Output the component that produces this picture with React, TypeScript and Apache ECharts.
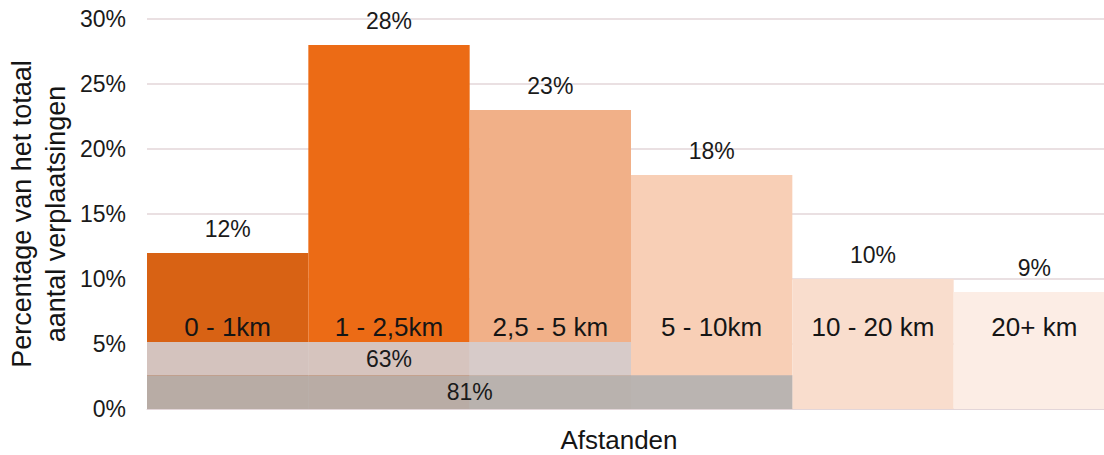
import React, { useEffect, useRef } from "react";
import * as echarts from "echarts";

const categories = ["0 - 1km", "1 - 2,5km", "2,5 - 5 km", "5 - 10km", "10 - 20 km", "20+ km"];
const shares = [12, 28, 23, 18, 10, 9];
const barColors = ["#d86214", "#ec6b15", "#f1b088", "#f8cfb6", "#f9ddcd", "#fcede5"];
const yTicks = [0, 5, 10, 15, 20, 25, 30];

// cumulative bands drawn over the bars
const bandLabels = ["63%", "81%"];
const bandStart = [0, 0];
const bandEnd = [2, 3];
const bandLow = [2.6, 0];
const bandHigh = [5.15, 2.6];
const bandColors = ["rgba(212,206,208,0.9)", "rgba(181,178,176,0.93)"];

const FONT = "'Liberation Sans', Arial, sans-serif";

export default function App() {
  const ref = useRef<HTMLDivElement>(null);
  useEffect(() => {
    if (!ref.current) return;
    const chart = echarts.init(ref.current, undefined, { renderer: "svg" });
    const bandData = bandLabels.map((_, i) => [bandStart[i], bandEnd[i], bandLow[i], bandHigh[i]]);
    chart.setOption({
      animation: false,
      textStyle: { fontFamily: FONT },
      grid: { left: 147, right: -11, top: 19, bottom: 46, containLabel: false, outerBoundsMode: "none" },
      xAxis: {
        type: "category",
        data: categories,
        z: 10,
        axisLine: { show: true, lineStyle: { color: "#e3d6d9", width: 1 } },
        axisTick: { show: false },
        axisLabel: { inside: true, interval: 0, hideOverlap: false, margin: 69, fontSize: 26, color: "#151515", fontFamily: FONT },
        name: "Afstanden",
        nameLocation: "middle",
        nameGap: 18,
        nameMoveOverlap: false,
        nameTextStyle: { fontSize: 26, color: "#151515", fontFamily: FONT, padding: [0, 24, 0, 0] },
      },
      yAxis: {
        type: "value",
        min: yTicks[0],
        max: yTicks[yTicks.length - 1],
        interval: 5,
        axisLine: { show: false },
        axisTick: { show: false },
        splitLine: { lineStyle: { color: "#e3d6d9", width: 1.5 } },
        axisLabel: { formatter: "{value}%", fontSize: 23, color: "#1a1a1a", margin: 21, fontFamily: FONT },
        name: "Percentage van het totaal\naantal verplaatsingen",
        nameLocation: "middle",
        nameRotate: 90,
        nameGap: 74,
        nameMoveOverlap: false,
        nameTextStyle: { fontSize: 27, lineHeight: 34, color: "#151515", fontFamily: FONT, align: "center" },
      },
      series: [
        {
          type: "bar",
          barCategoryGap: "0%",
          z: 2,
          data: shares.map((v, i) => ({ value: v, itemStyle: { color: barColors[i] } })),
          label: {
            show: true,
            position: "top",
            distance: 13,
            formatter: "{c}%",
            fontSize: 23,
            color: "#1a1a1a",
            fontFamily: FONT,
          },
        },
        {
          type: "custom",
          z: 3,
          data: bandData,
          encode: { x: [0, 1], y: [2, 3] },
          renderItem: (params: any, api: any) => {
            const i = params.dataIndex;
            const s = api.coord([api.value(0), api.value(2)]);
            const e = api.coord([api.value(1), api.value(3)]);
            const bw = api.size([1, 0])[0];
            const x0 = s[0] - bw / 2;
            const x1 = e[0] + bw / 2;
            return {
              type: "rect",
              shape: { x: x0, y: e[1], width: x1 - x0, height: s[1] - e[1] },
              style: { fill: bandColors[i] },
              textContent: {
                style: { text: bandLabels[i], fontSize: 23, fill: "#1a1a1a", fontFamily: FONT },
              },
              textConfig: { position: "inside" },
            };
          },
        },
      ],
    });
    return () => chart.dispose();
  }, []);
  return (
    <div
      ref={ref}
      style={{ position: "fixed", left: 0, top: 0, width: 1104, height: 455, background: "#fff" }}
    />
  );
}
